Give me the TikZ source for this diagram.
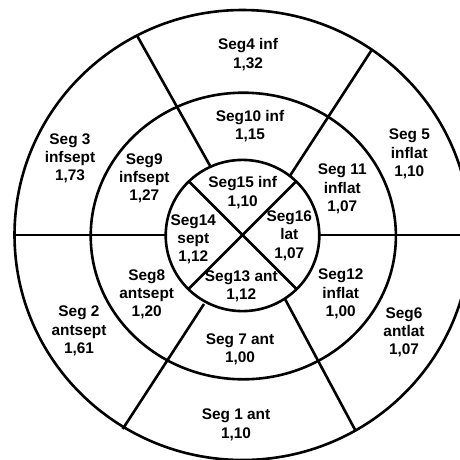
\documentclass[tikz,border=0pt]{standalone}
\usepackage{fontspec}
\setmainfont{Liberation Sans}
\begin{document}
\begin{tikzpicture}[x=1pt,y=-1pt,
  ring/.style={line width=2.6pt},
  seg/.style={line width=2.6pt},
  lbl/.style={font=\bfseries\fontsize{15.4}{18.3}\selectfont, align=center, inner sep=0pt}]
\useasboundingbox (0,0) rectangle (460,459);
\clip (0,0) rectangle (460,459);
\fill[white] (0,0) rectangle (460,459);
% centre
\coordinate (C) at (242.5,235);
% rings
\draw[ring] (242.5,235) ellipse [x radius=228, y radius=225];
\draw[ring] (243.3,236) ellipse [x radius=152.6, y radius=143.3];
\draw[ring] (242.5,235.5) ellipse [x radius=76.8, y radius=75.6];
% horizontal dividers
\coordinate (oL) at (14.5,235);
\coordinate (iL) at (165.7,235);
\coordinate (iR) at (319.3,235);
\coordinate (oR) at (470,235);
\draw[seg] (oL) -- (iL);
\draw[seg] (iR) -- (oR);
% oblique dividers in outer rings
\coordinate (aUL) at (210,165.7);  \coordinate (bUL) at (136.7,35);
\coordinate (aUR) at (290,175.7);  \coordinate (bUR) at (371.7,50);
\coordinate (aLL) at (204,304);    \coordinate (bLL) at (122.7,429);
\coordinate (aLR) at (285,299);    \coordinate (bLR) at (355.7,431);
\draw[seg] (aUL) -- (bUL);
\draw[seg] (aUR) -- (bUR);
\draw[seg] (aLL) -- (bLL);
\draw[seg] (aLR) -- (bLR);
% inner cross
\coordinate (xUL) at (188.8,181.3);
\coordinate (xUR) at (296.2,181.3);
\coordinate (xLL) at (188.8,288.7);
\coordinate (xLR) at (296.2,288.7);
\draw[seg] (xUL) -- (xLR);
\draw[seg] (xUR) -- (xLL);
% labels
\node[lbl] (s4)  at (248,54.5)   {Seg4 inf\\1,32};
\node[lbl] (s10) at (250,126.2)  {Seg10 inf\\1,15};
\node[lbl] (s3)  at (70,158.3)   {Seg 3\\infsept\\1,73};
\node[lbl] (s9)  at (144.3,178.3) {Seg9\\infsept\\1,27};
\node[lbl] (s5)  at (409.3,154)  {Seg 5\\inflat\\1,10};
\node[lbl] (s11) at (342.3,189)  {Seg 11\\inflat\\1,07};
\node[lbl] (s15) at (242.7,192.5) {Seg15 inf\\1,10};
\node[lbl] (s14) at (193.3,239.3) {Seg14\\sept\\1,12};
\node[lbl] (s16) at (289.3,235.7) {Seg16\\lat\\1,07};
\node[lbl] (s13) at (241.3,286.5) {Seg13 ant\\1,12};
\node[lbl] (s8)  at (146.7,294.3) {Seg8\\antsept\\1,20};
\node[lbl] (s12) at (340.7,294)  {Seg12\\inflat\\1,00};
\node[lbl] (s2)  at (79,331)     {Seg 2\\antsept\\1,61};
\node[lbl] (s6)  at (404,332.3)  {Seg6\\antlat\\1,07};
\node[lbl] (s7)  at (240,349.5)  {Seg 7 ant\\1,00};
\node[lbl] (s1)  at (236,424.7)  {Seg 1 ant\\1,10};
\end{tikzpicture}
\end{document}
